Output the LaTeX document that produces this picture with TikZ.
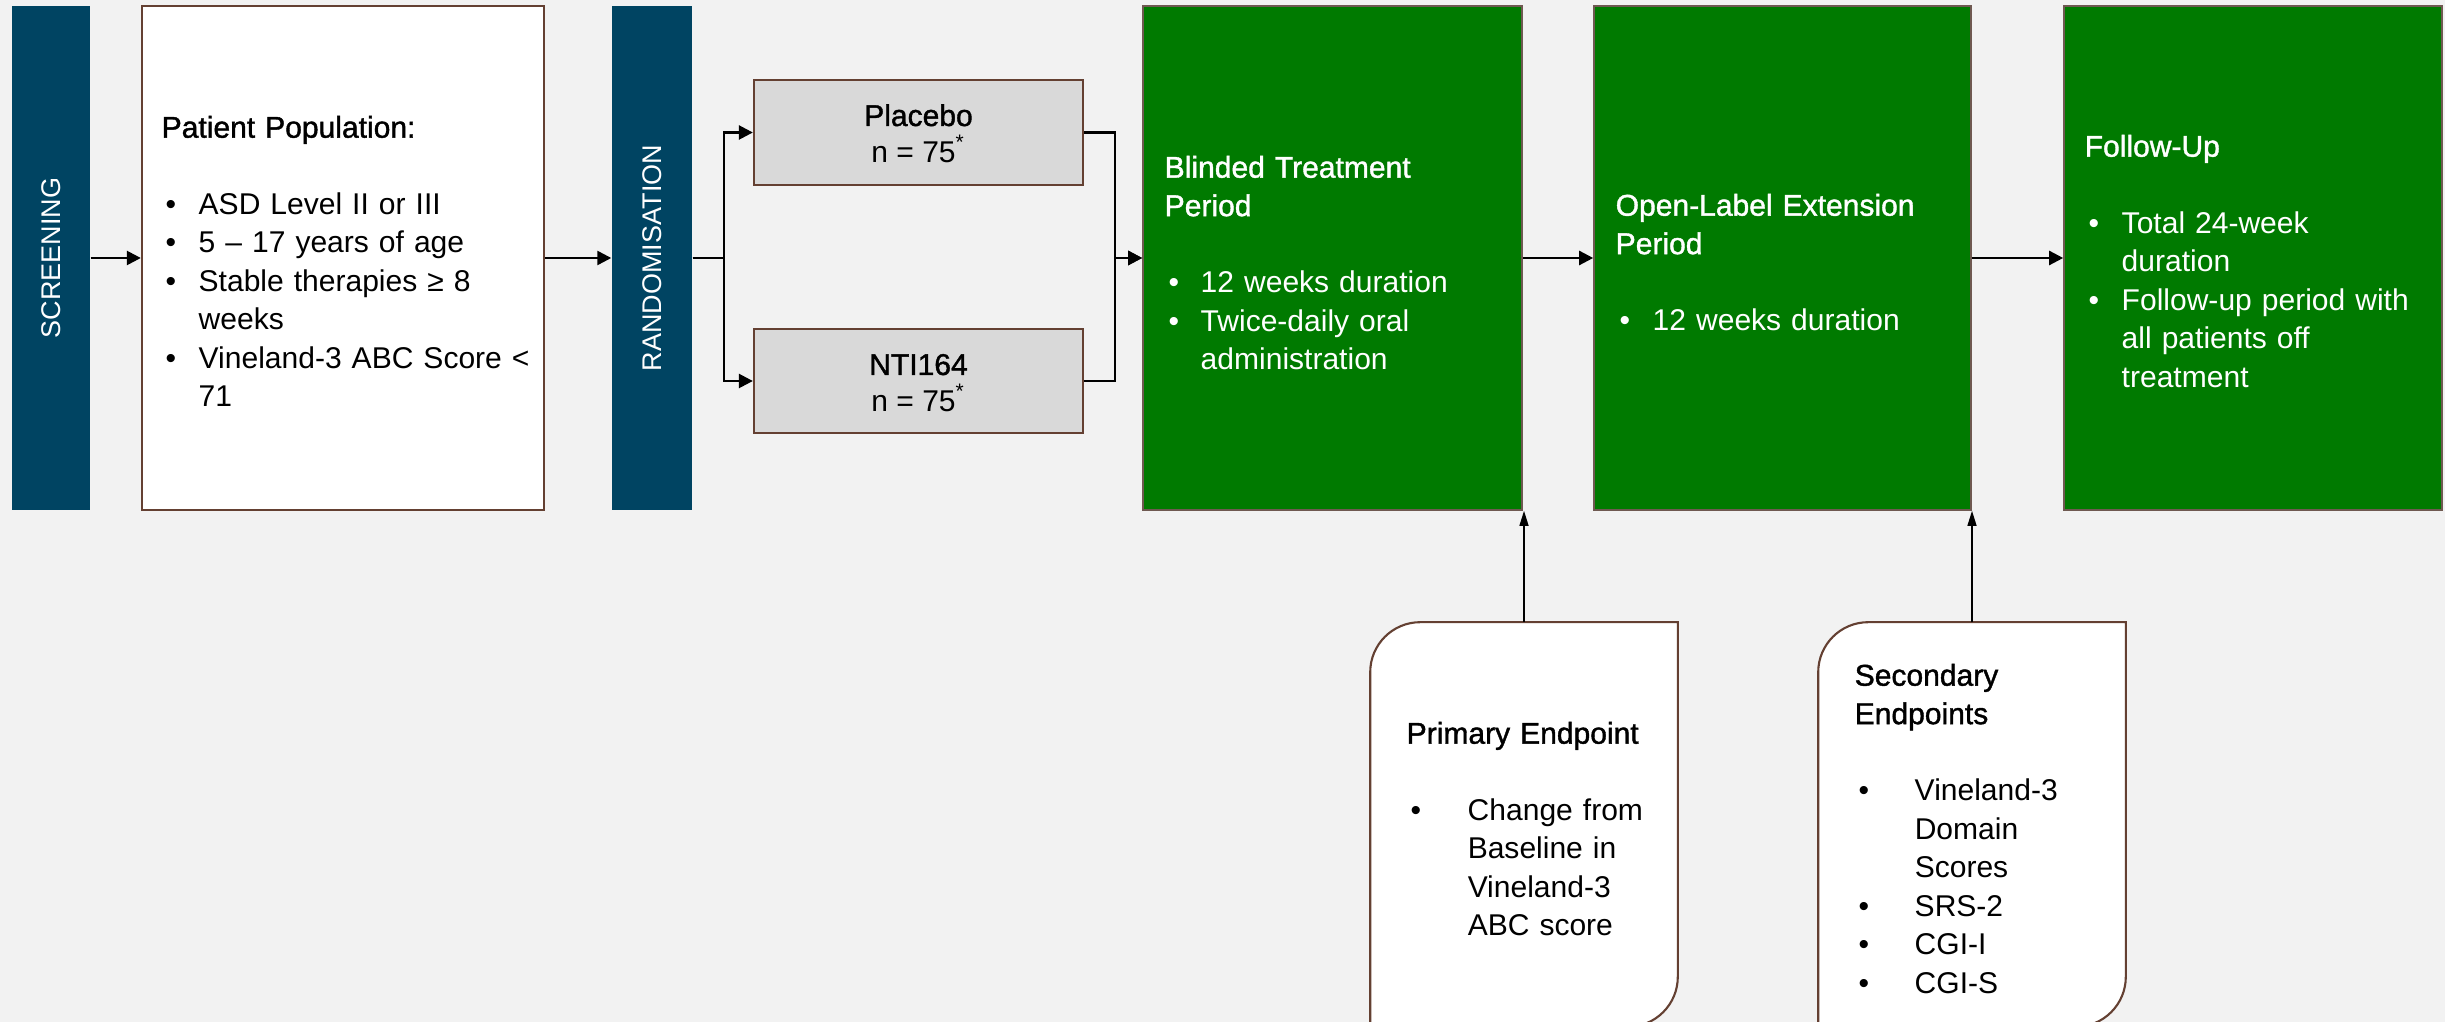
\documentclass[tikz,border=0pt]{standalone}
\usepackage{fontspec}
\setmainfont{Liberation Sans}
\newfontfamily\tfont{Liberation Sans}[FakeBold=1.3]
\usetikzlibrary{arrows.meta,calc}
\definecolor{navy}{RGB}{0,68,98}
\definecolor{pgreen}{RGB}{0,122,0}
\definecolor{bgg}{RGB}{242,242,242}
\definecolor{boxg}{RGB}{217,217,217}
\definecolor{brn}{RGB}{100,64,50}
\newcommand{\bodysize}{\fontsize{8.54pt}{10.925pt}\selectfont}
\newcommand{\labsize}{\fontsize{7.68pt}{9pt}\selectfont}
\newcommand{\bul}[1]{\makebox[#1][l]{\hspace{0.04cm}•}}
\newcommand{\ind}[1]{\hspace*{#1}}
\begin{document}
\begin{tikzpicture}[x=0.01cm,y=-0.01cm,
  bar/.style={fill=navy,draw=none,inner sep=0,minimum height=5.04cm},
  wbox/.style={fill=white,draw=brn,line width=0.6pt,inner sep=0},
  graybox/.style={fill=boxg,draw=brn,line width=0.6pt,inner sep=0,minimum width=3.29cm},
  gbox/.style={fill=pgreen,draw=brn!60!gray,line width=0.4pt,inner sep=0,minimum height=5.04cm},
  epbox/.style={draw=none,inner sep=0,minimum width=3.06cm,minimum height=4.03cm},
  epshape/.style={fill=white,draw=brn,line width=0.6pt},
  txt/.style={anchor=north west,inner sep=0,text width=5cm,align=left,font=\bodysize},
  lab/.style={rotate=90,text=white,font=\labsize,inner sep=0},
  arr/.style={-{Triangle[length=0.14cm,width=0.14cm]},line width=0.7pt},
  thinarr/.style={-{Triangle[length=0.15cm,width=0.09cm]},line width=0.4pt}]
\path[fill=bgg,use as bounding box] (0,0) rectangle (2445,1022);

% boxes
\node[bar,minimum width=0.78cm] (scr) at (51,258) {};
\node[wbox,minimum width=4.02cm,minimum height=5.04cm] (pat) at (343,258) {};
\node[bar,minimum width=0.80cm] (rand) at (652,258) {};
\node[graybox,minimum height=1.05cm] (plac) at (918.5,132.5) {};
\node[graybox,minimum height=1.04cm] (nti) at (918.5,381) {};
\node[gbox,minimum width=3.79cm] (blind) at (1332.5,258) {};
\node[gbox,minimum width=3.77cm] (open) at (1782.5,258) {};
\node[gbox,minimum width=3.78cm] (foll) at (2253,258) {};
\node[epbox] (prim) at (1524,824.5) {};
\node[epbox] (sec) at (1972,824.5) {};

% endpoint shapes
\draw[epshape] ($(prim.north west)+(0,50)$) .. controls ($(prim.north west)+(0,22.4)$) and ($(prim.north west)+(22.4,0)$) .. ($(prim.north west)+(50,0)$) -- (prim.north east) -- ($(prim.south east)+(0,-50)$) .. controls ($(prim.south east)+(0,-22.4)$) and ($(prim.south east)+(-22.4,0)$) .. ($(prim.south east)+(-50,0)$) -- (prim.south west) -- cycle;
\draw[epshape] ($(sec.north west)+(0,50)$) .. controls ($(sec.north west)+(0,22.4)$) and ($(sec.north west)+(22.4,0)$) .. ($(sec.north west)+(50,0)$) -- (sec.north east) -- ($(sec.south east)+(0,-50)$) .. controls ($(sec.south east)+(0,-22.4)$) and ($(sec.south east)+(-22.4,0)$) .. ($(sec.south east)+(-50,0)$) -- (sec.south west) -- cycle;

% labels
\node[lab] (scrt) at (scr.center) {SCREENING};
\node[lab] (randt) at (rand.center) {RANDOMISATION};

\node[anchor=base,inner sep=0,font=\bodysize\tfont] (plact) at (918.5,126) {Placebo};
\node[anchor=base,inner sep=0,font=\bodysize] (placn) at (918.5,163) {n = 75\textsuperscript{*}};
\node[anchor=base,inner sep=0,font=\bodysize\tfont] (ntit) at (918.5,375) {NTI164};
\node[anchor=base,inner sep=0,font=\bodysize] (ntin) at (918.5,412) {n = 75\textsuperscript{*}};

\node[txt] (patt) at (161,110.1) {\strut{\tfont Patient Population:}\\[\baselineskip]
\bul{0.37cm}ASD Level II or III\\
\bul{0.37cm}5 – 17 years of age\\
\bul{0.37cm}Stable therapies ≥ 8\\
\ind{0.37cm}weeks\\
\bul{0.37cm}Vineland-3 ABC Score <\\
\ind{0.37cm}71};

\node[txt,text=white] (blindt) at (1164,150.1) {\strut{\tfont Blinded Treatment}\\
{\tfont Period}\\[\baselineskip]
\bul{0.36cm}12 weeks duration\\
\bul{0.36cm}Twice-daily oral\\
\ind{0.36cm}administration};

\node[txt,text=white] (opent) at (1615,188.1) {\strut{\tfont Open-Label Extension}\\
{\tfont Period}\\[\baselineskip]
\bul{0.37cm}12 weeks duration};

\node[txt,text=white] (follt) at (2084,129.1) {\strut{\tfont Follow-Up}\\[\baselineskip]
\bul{0.37cm}Total 24-week\\
\ind{0.37cm}duration\\
\bul{0.37cm}Follow-up period with\\
\ind{0.37cm}all patients off\\
\ind{0.37cm}treatment};

\node[txt] (primt) at (1406,716.1) {\strut{\tfont Primary Endpoint}\\[\baselineskip]
\bul{0.61cm}Change from\\
\ind{0.61cm}Baseline in\\
\ind{0.61cm}Vineland-3\\
\ind{0.61cm}ABC score};

\node[txt] (sect) at (1854,658.1) {\strut{\tfont Secondary}\\
{\tfont Endpoints}\\[\baselineskip]
\bul{0.60cm}Vineland-3\\
\ind{0.60cm}Domain\\
\ind{0.60cm}Scores\\
\bul{0.60cm}SRS-2\\
\bul{0.60cm}CGI-I\\
\bul{0.60cm}CGI-S};

% connectors
\draw[arr] (scr.east) -- (pat.west);
\draw[arr] (pat.east) -- (rand.west);
\draw[arr] (rand.east) -- ++(31,0) |- (plac.west);
\draw[arr] (rand.east) -- ++(31,0) |- (nti.west);
\draw[arr] (plac.east) -- ++(31,0) |- (blind.west);
\draw[arr] (nti.east) -- ++(31,0) |- (blind.west);
\draw[arr] (blind.east) -- (open.west);
\draw[arr] (open.east) -- (foll.west);
\draw[thinarr] (prim.north) -- (prim.north |- blind.south);
\draw[thinarr] (sec.north) -- (sec.north |- open.south);
\end{tikzpicture}
\end{document}
